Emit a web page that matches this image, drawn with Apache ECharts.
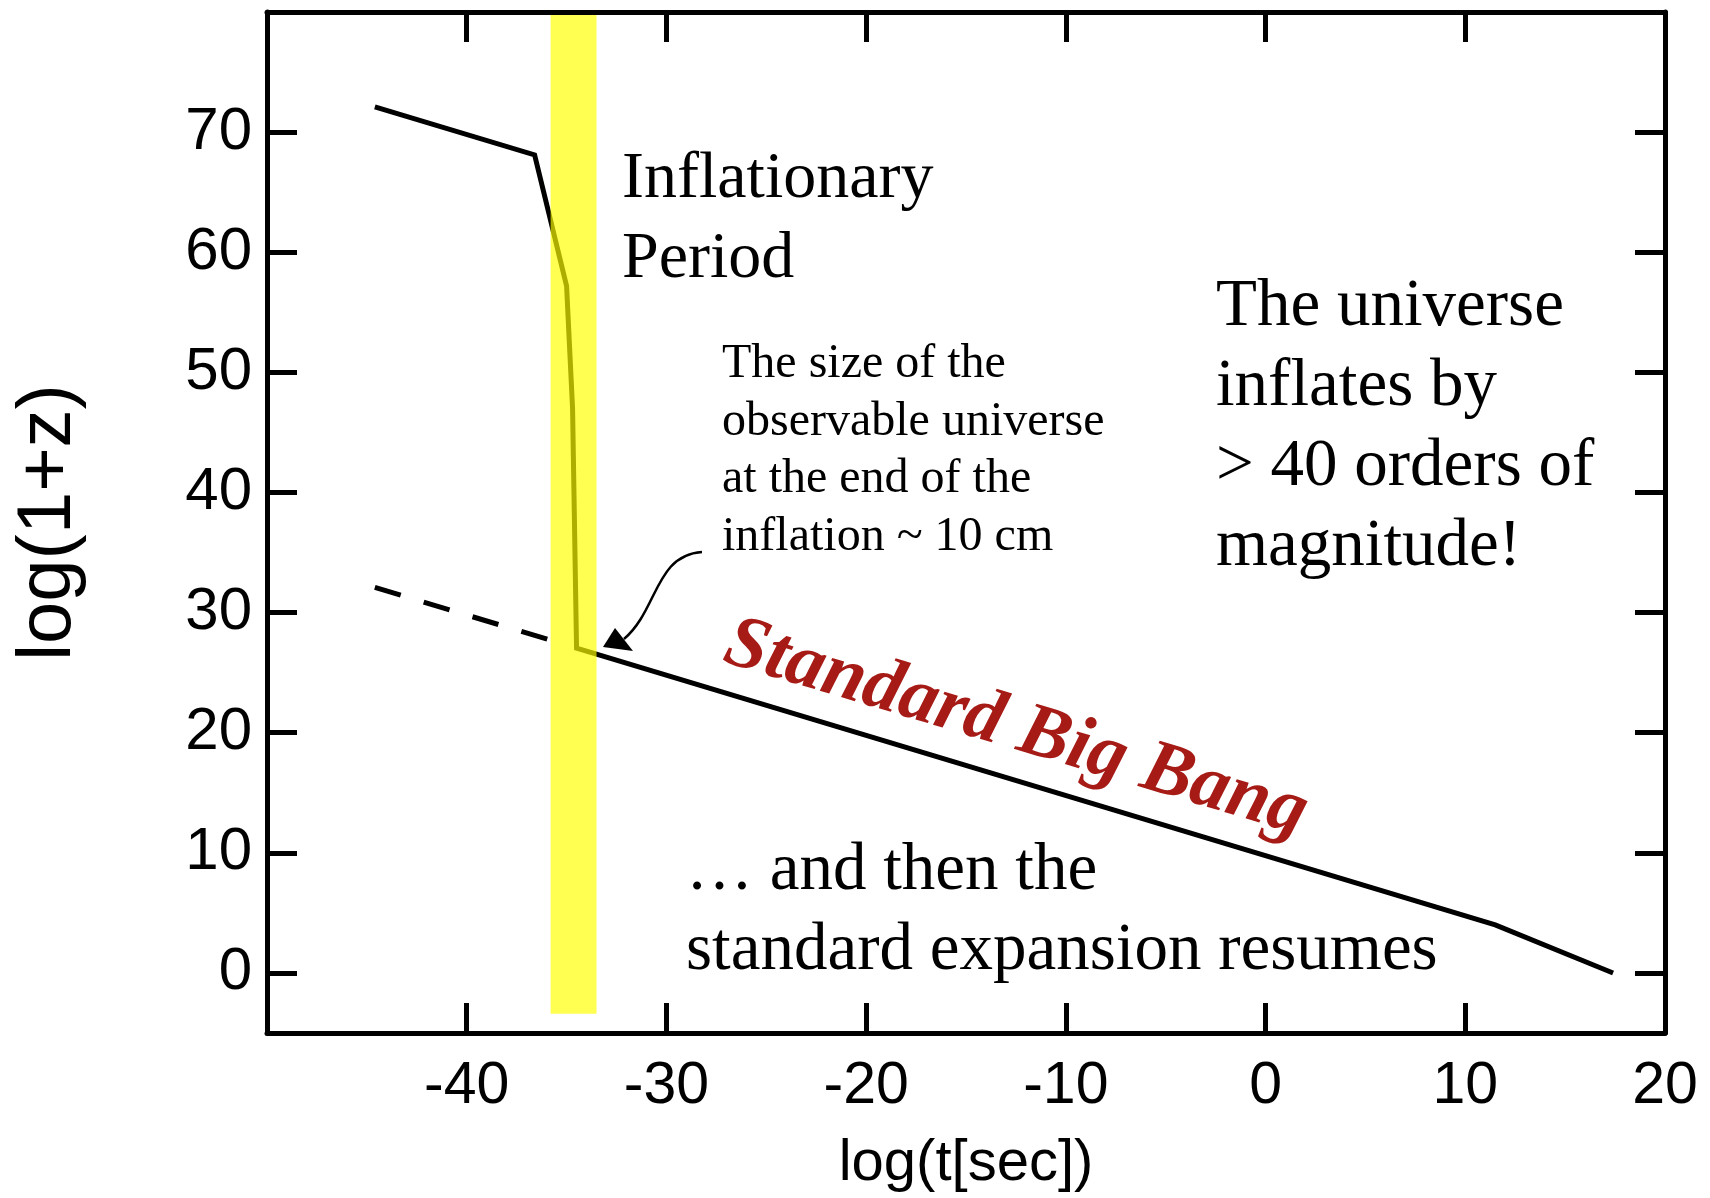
<!DOCTYPE html>
<html>
<head>
<meta charset="utf-8">
<script src="https://cdn.jsdelivr.net/npm/echarts@6/dist/echarts.min.js"></script>
<style>
  html, body { margin: 0; padding: 0; background: #fff; }
  #chart { width: 1710px; height: 1198px; }
</style>
</head>
<body>
<div id="chart"></div>
<script>
// Redshift history: inflation followed by the standard Big Bang expansion
const inflationX = [-44.6, -36.6, -35.0, -34.7, -34.5, 11.5, 17.4];
const inflationY = [72.1, 68.1, 57.2, 47.0, 27.05, 4.0, 0];

// Standard expansion extrapolated back before inflation (dashed)
const extrapolationX = [-44.6, -35.9];
const extrapolationY = [32.1, 27.75];

// Inflationary period highlight: log t range and log(1+z) range
const bandX = [-35.8, -33.5];
const bandY = [-3.4, 80];

const xTicks = [-40, -30, -20, -10, 0, 10, 20];
const yTicks = [0, 10, 20, 30, 40, 50, 60, 70];

const zip = (xs, ys) => xs.map((x, i) => [x, ys[i]]);

const SANS = '"Liberation Sans", Arial, Helvetica, sans-serif';
const SERIF = '"Liberation Serif", "Times New Roman", serif';

const axisLine = { show: true, onZero: false, lineStyle: { color: '#000', width: 5 } };

function frameAxis(extra) {
  return Object.assign({
    type: 'value',
    z: 10,
    axisLine: axisLine,
    splitLine: { show: false },
    axisTick: { show: true, inside: true, length: 30, lineStyle: { color: '#000', width: 5 } },
    axisLabel: { show: false }
  }, extra);
}

const chart = echarts.init(document.getElementById('chart'), null, { renderer: 'canvas' });

chart.setOption({
  animation: false,
  backgroundColor: '#fff',
  grid: { left: 267, right: 45, top: 12, bottom: 158, containLabel: false },
  xAxis: [
    frameAxis({
      position: 'bottom', min: -50, max: 20,
      name: 'log(t[sec])', nameLocation: 'middle', nameGap: 102,
      nameTextStyle: { fontFamily: SANS, fontSize: 58, color: '#000' },
      axisTick: { show: true, inside: true, length: 30, customValues: xTicks, lineStyle: { color: '#000', width: 5 } },
      axisLabel: { show: true, customValues: xTicks, margin: 24, fontFamily: SANS, fontSize: 59, color: '#000' }
    }),
    frameAxis({
      position: 'top', min: -50, max: 20,
      axisTick: { show: true, inside: true, length: 30, customValues: xTicks, lineStyle: { color: '#000', width: 5 } }
    })
  ],
  yAxis: [
    frameAxis({
      position: 'left', min: -5, max: 80,
      name: 'log(1+z)', nameLocation: 'middle', nameGap: 180,
      nameTextStyle: { fontFamily: SANS, fontSize: 76, color: '#000' },
      axisTick: { show: true, inside: true, length: 30, customValues: yTicks, lineStyle: { color: '#000', width: 5 } },
      axisLabel: { show: true, customValues: yTicks, margin: 15, fontFamily: SANS, fontSize: 60, color: '#000' }
    }),
    frameAxis({
      position: 'right', min: -5, max: 80,
      axisTick: { show: true, inside: true, length: 30, customValues: yTicks, lineStyle: { color: '#000', width: 5 } }
    })
  ],
  series: [
    {
      name: 'history',
      type: 'line',
      xAxisIndex: 0, yAxisIndex: 0,
      data: zip(inflationX, inflationY),
      showSymbol: false,
      z: 2,
      lineStyle: { color: '#000', width: 5, join: 'miter' }
    },
    {
      name: 'extrapolation',
      type: 'line',
      xAxisIndex: 0, yAxisIndex: 0,
      data: zip(extrapolationX, extrapolationY),
      showSymbol: false,
      z: 2,
      lineStyle: { color: '#000', width: 5, type: [27, 24], cap: 'butt' }
    },
    {
      name: 'inflation band',
      type: 'custom',
      xAxisIndex: 0, yAxisIndex: 0,
      z: 3,
      silent: true,
      data: [[bandX[0], bandX[1], bandY[0], bandY[1]]],
      renderItem: function (params, api) {
        const p0 = api.coord([api.value(0), api.value(3)]);
        const p1 = api.coord([api.value(1), api.value(2)]);
        return {
          type: 'rect',
          shape: { x: p0[0], y: p0[1], width: p1[0] - p0[0], height: p1[1] - p0[1] },
          style: { fill: 'rgba(255,255,0,0.68)' }
        };
      }
    }
  ],
  graphic: [
    {
      type: 'text', x: 622, y: 140, z: 20,
      style: { text: 'Inflationary\nPeriod', font: '66px ' + SERIF, lineHeight: 80, fill: '#000', align: 'left', verticalAlign: 'top' }
    },
    {
      type: 'text', x: 722, y: 336, z: 20,
      style: { text: 'The size of the\nobservable universe\nat the end of the\ninflation ~ 10 cm', font: '48px ' + SERIF, lineHeight: 57.5, fill: '#000', align: 'left', verticalAlign: 'top' }
    },
    {
      type: 'text', x: 1216, y: 267, z: 20,
      style: { text: 'The universe\ninflates by\n> 40 orders of\nmagnitude!', font: '67px ' + SERIF, lineHeight: 80, fill: '#000', align: 'left', verticalAlign: 'top' }
    },
    {
      type: 'text', x: 686, y: 831, z: 20,
      style: { text: '\u2026 and then the\nstandard expansion resumes', font: '67px ' + SERIF, lineHeight: 80, fill: '#000', align: 'left', verticalAlign: 'top' }
    },
    {
      type: 'text', x: 1016, y: 729, z: 20, rotation: -0.2915,
      style: { text: 'Standard Big Bang', font: 'italic bold 76px ' + SERIF, fill: '#a61b16', align: 'center', verticalAlign: 'middle' }
    },
    {
      type: 'bezierCurve', z: 20,
      shape: { x1: 702, y1: 552, cpx1: 655, cpy1: 555, cpx2: 658, cpy2: 610, x2: 624, y2: 639 },
      style: { stroke: '#000', lineWidth: 2.5, fill: null }
    },
    {
      type: 'polygon', z: 20,
      shape: { points: [[603, 647], [615, 628], [633, 651]] },
      style: { fill: '#000' }
    }
  ]
});
</script>
</body>
</html>
